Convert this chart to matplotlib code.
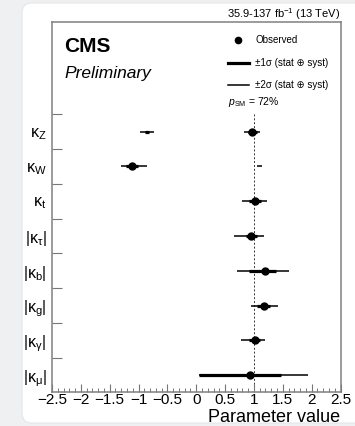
import matplotlib
matplotlib.use("Agg")
import matplotlib.pyplot as plt
from matplotlib.patches import FancyBboxPatch
from matplotlib.lines import Line2D

plt.rcParams["font.family"] = ["Liberation Sans", "DejaVu Sans"]
plt.rcParams["mathtext.fontset"] = "custom"
plt.rcParams["mathtext.rm"] = "Liberation Sans"
plt.rcParams["mathtext.it"] = "Liberation Sans:italic"
plt.rcParams["mathtext.sf"] = "Liberation Sans"
plt.rcParams["mathtext.bf"] = "Liberation Sans:bold"

# coupling modifiers, top to bottom
labels = [r"$\mathrm{\kappa}_{\mathrm{Z}}$", r"$\mathrm{\kappa}_{\mathrm{W}}$",
          r"$\mathrm{\kappa}_{\mathrm{t}}$", r"$|\mathrm{\kappa}_{\mathrm{\tau}}|$",
          r"$|\mathrm{\kappa}_{\mathrm{b}}|$", r"$|\mathrm{\kappa}_{\mathrm{g}}|$",
          r"$|\mathrm{\kappa}_{\mathrm{\gamma}}|$", r"$|\mathrm{\kappa}_{\mathrm{\mu}}|$"]
best = [0.97, -1.11, 1.02, 0.95, 1.19, 1.17, 1.01, 0.93]
lo1 = [0.89, -1.21, 0.91, 0.86, 0.92, 1.06, 0.92, 0.05]
hi1 = [1.06, -1.01, 1.13, 1.05, 1.38, 1.28, 1.11, 1.47]
lo2 = [0.82, -1.30, 0.80, 0.66, 0.71, 0.95, 0.77, 0.04]
hi2 = [1.11, -0.86, 1.22, 1.18, 1.60, 1.42, 1.19, 1.93]

# extra disjoint intervals (row index, low, high)
extra1 = [(0, -0.88, -0.82)]
extra2 = [(0, -0.97, -0.73), (1, 1.06, 1.14)]

xticks = [-2.5, -2, -1.5, -1, -0.5, 0, 0.5, 1, 1.5, 2, 2.5]
xticklabels = ["\u22122.5", "\u22122", "\u22121.5", "\u22121", "\u22120.5", "0",
               "0.5", "1", "1.5", "2", "2.5"]

n = len(labels)
ypos = [n - 1 - i for i in range(n)]

fig = plt.figure(figsize=(3.55, 4.26), dpi=100)
fig.patch.set_facecolor("#eef0f2")
card = FancyBboxPatch((22 / 355, 3 / 426), 1.0, 420 / 426,
                      boxstyle="round,pad=0,rounding_size=0.025",
                      transform=fig.transFigure, facecolor="white",
                      edgecolor="#e4e6e9", linewidth=0.8, zorder=-10)
fig.patches.append(card)

ax = fig.add_axes([52 / 355, 1 - 392 / 426, 288.5 / 355, 370 / 426])
ax.set_facecolor("white")
ax.set_xlim(-2.5, 2.5)
ax.set_ylim(-0.48, 10.15)

ax.vlines(1, -0.48, 7.5, colors="#333333", linestyles=(0, (2, 2)), linewidth=0.7, zorder=1)

ax.hlines(ypos, lo2, hi2, colors="black", linewidth=1.1, zorder=2)
ax.hlines(ypos, lo1, hi1, colors="black", linewidth=2.3, zorder=3)
ax.plot(best, ypos, "o", color="black", markersize=5, zorder=4)
for r, a, b in extra2:
    ax.hlines(ypos[r], a, b, colors="black", linewidth=1.1, zorder=2)
for r, a, b in extra1:
    ax.hlines(ypos[r], a, b, colors="black", linewidth=2.3, zorder=3)

ax.set_xticks(xticks)
ax.set_xticklabels(xticklabels, fontsize=11)
ax.set_xticks([x / 10 for x in range(-25, 26)], minor=True)
ax.tick_params(axis="x", which="major", direction="in", length=6, width=0.8,
               color="#777777", pad=1)
ax.tick_params(axis="x", which="minor", direction="in", length=3, width=0.7,
               color="#777777")

ax.set_yticks(ypos)
ax.set_yticklabels(labels, fontsize=11.5)
ax.set_yticks([y + 0.5 for y in ypos], minor=True)
ax.tick_params(axis="y", which="major", length=0, pad=4)
ax.tick_params(axis="y", which="minor", direction="in", length=7, width=0.8,
               color="#777777")
for s in ax.spines.values():
    s.set_color("#808080")
    s.set_linewidth(1.1)

ax.text(1.0, -0.068, "Parameter value", transform=ax.transAxes, ha="right",
        va="center", fontsize=13)
ax.text(1.0, 1.022, r"35.9-137 fb$^{-1}$ (13 TeV)", transform=ax.transAxes,
        ha="right", va="center", fontsize=8)
ax.text(0.042, 0.935, "CMS", transform=ax.transAxes, ha="left", va="center",
        fontsize=15, fontweight="bold")
ax.text(0.042, 0.862, "Preliminary", transform=ax.transAxes, ha="left",
        va="center", fontsize=12.5, style="italic")

# legend
ax.add_line(Line2D([0.645], [0.952], marker="o", color="black", markersize=4.5,
                   transform=ax.transAxes))
ax.add_line(Line2D([0.61, 0.683], [0.890, 0.890], color="black", linewidth=2.3,
                   transform=ax.transAxes))
ax.add_line(Line2D([0.61, 0.683], [0.831, 0.831], color="black", linewidth=1.1,
                   transform=ax.transAxes))
ax.text(0.705, 0.952, "Observed", transform=ax.transAxes, va="center", fontsize=7)
ax.text(0.705, 0.890, "\u00b11\u03c3 (stat \u2295 syst)", transform=ax.transAxes,
        va="center", fontsize=7)
ax.text(0.705, 0.831, "\u00b12\u03c3 (stat \u2295 syst)", transform=ax.transAxes,
        va="center", fontsize=7)
ax.text(0.61, 0.783, r"$\mathit{p}_{\mathrm{SM}}$ = 72%", transform=ax.transAxes,
        va="center", fontsize=7.5)

fig.savefig("out.png", dpi=100, facecolor=fig.get_facecolor())
